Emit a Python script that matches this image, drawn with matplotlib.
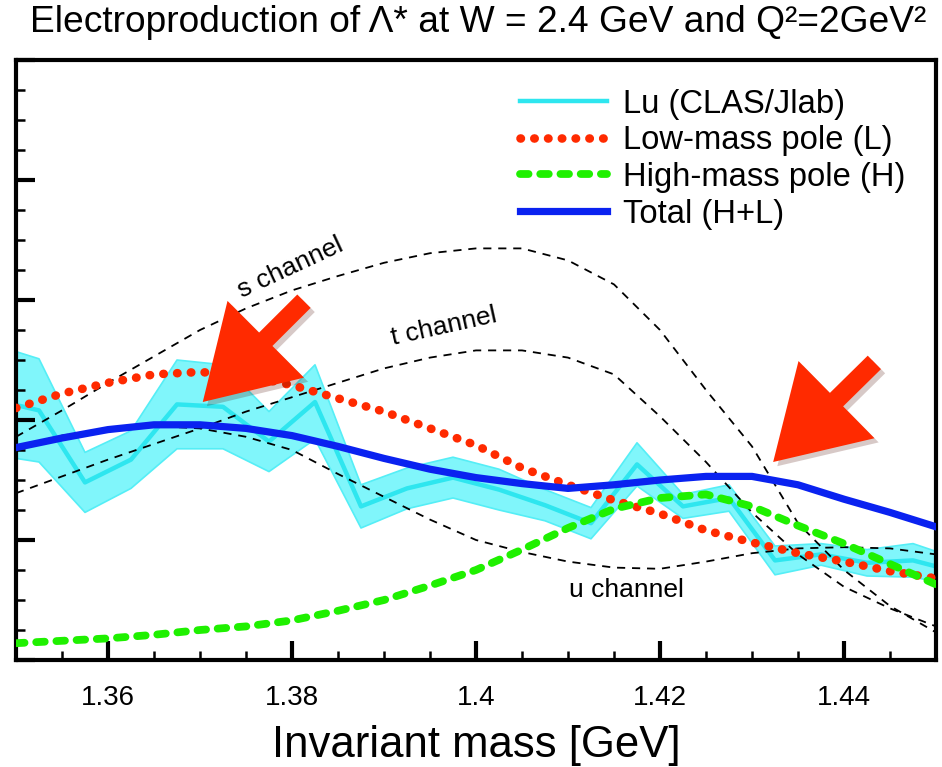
import numpy as np
import matplotlib
matplotlib.use('Agg')
import matplotlib.pyplot as plt
from matplotlib import patheffects
from matplotlib.ticker import MultipleLocator, FuncFormatter

plt.rcParams['font.family'] = ['Liberation Sans', 'DejaVu Sans']

# ---- data (y in arbitrary units, axis has no y labels) ----
# Lu (CLAS/Jlab) measurement, centre line and half band width
lu_mass = [1.3475, 1.3525, 1.3575, 1.3625, 1.3675, 1.3725, 1.3775, 1.3825,
           1.3875, 1.3925, 1.3975, 1.4025, 1.4075, 1.4125, 1.4175, 1.4225,
           1.4275, 1.4325, 1.4375, 1.4425, 1.4475, 1.4525]
lu_val = [2.17, 2.08, 1.48, 1.67, 2.13, 2.11, 1.82, 2.15,
          1.28, 1.43, 1.52, 1.42, 1.29, 1.14, 1.63, 1.28,
          1.35, 0.83, 0.88, 0.81, 0.83, 0.73]
lu_err = [0.46, 0.43, 0.25, 0.24, 0.37, 0.35, 0.25, 0.31,
          0.18, 0.17, 0.17, 0.17, 0.13, 0.13, 0.18, 0.10,
          0.11, 0.12, 0.09, 0.11, 0.14, 0.11]

# model curves
mass = [1.350, 1.355, 1.360, 1.365, 1.370, 1.375, 1.380, 1.385, 1.390, 1.395,
        1.400, 1.405, 1.410, 1.415, 1.420, 1.425, 1.430, 1.435, 1.440, 1.445,
        1.450]
low_pole = [2.10, 2.22, 2.31, 2.38, 2.40, 2.37, 2.29, 2.18, 2.07, 1.93,
            1.79, 1.60, 1.46, 1.33, 1.22, 1.08, 0.98, 0.89, 0.82, 0.74,
            0.68]
high_pole = [0.14, 0.16, 0.18, 0.21, 0.25, 0.28, 0.33, 0.41, 0.50, 0.62,
             0.75, 0.92, 1.10, 1.26, 1.35, 1.38, 1.28, 1.12, 0.97, 0.80,
             0.63]
total = [1.77, 1.85, 1.92, 1.96, 1.96, 1.93, 1.87, 1.78, 1.68, 1.59,
         1.52, 1.47, 1.43, 1.46, 1.50, 1.53, 1.53, 1.46, 1.34, 1.23,
         1.11]
s_chan = [1.86, 2.08, 2.31, 2.53, 2.75, 2.93, 3.08, 3.20, 3.31, 3.39,
          3.43, 3.43, 3.33, 3.13, 2.75, 2.25, 1.78, 1.14, 0.75, 0.45,
          0.23]
t_chan = [1.39, 1.53, 1.67, 1.80, 1.93, 2.07, 2.19, 2.31, 2.43, 2.52,
          2.58, 2.58, 2.52, 2.38, 2.03, 1.65, 1.23, 0.88, 0.61, 0.43,
          0.28]
u_chan = [1.78, 1.87, 1.93, 1.95, 1.93, 1.86, 1.75, 1.55, 1.36, 1.17,
          1.00, 0.90, 0.82, 0.77, 0.76, 0.82, 0.89, 0.93, 0.94, 0.93,
          0.88]

title = 'Electroproduction of Λ* at W = 2.4 GeV and Q²=2GeV²'

fig = plt.figure(figsize=(9.42, 7.67), dpi=100)
ax = fig.add_axes([16 / 942, 107 / 767, 920 / 942, 600 / 767])

lu_val = np.array(lu_val)
lu_err = np.array(lu_err)

# band + centre line of the measurement
ax.fill_between(lu_mass, lu_val - lu_err, lu_val + lu_err, color='#80f6fb',
                edgecolor='#55eef6', lw=1.2, zorder=1)
ax.plot(lu_mass, lu_val, color='#2ee6ef', lw=3.2, zorder=2,
        label='Lu (CLAS/Jlab)')

# channel curves
for yy in (s_chan, t_chan, u_chan):
    ax.plot(mass, yy, color='black', lw=1.3, dashes=(4.5, 3.8), zorder=3)

ax.plot(mass, low_pole, color='#ff2a00', lw=6.2, dashes=(0.05, 1.55),
        dash_capstyle='round', zorder=4, label='Low-mass pole (L)')
ax.plot(mass, high_pole, color='#1ff000', lw=5.6, dashes=(1.1, 1.5),
        dash_capstyle='round', zorder=4, label='High-mass pole (H)')
ax.plot(mass, total, color='#0a22f0', lw=5.2, zorder=5,
        label='Total (H+L)')

# labels of the channels
ax.text(1.3798, 3.27, 's channel', fontsize=19, rotation=25,
        ha='center', va='center')
ax.text(1.3965, 2.78, 't channel', fontsize=19, rotation=12.5,
        ha='center', va='center')
ax.text(1.4164, 0.58, 'u channel', fontsize=19, ha='center', va='center')

# red arrows
arr = dict(arrowstyle='simple,head_length=3.2,head_width=3.9,tail_width=0.68',
           fc='#ff2a00', ec='none', shrinkA=0, shrinkB=0, mutation_scale=20)
shadow = [patheffects.SimplePatchShadow(offset=(3, -3), alpha=0.22),
          patheffects.Normal()]
for tip, tail in [((1.3703, 2.15), (1.3813, 2.99)),
                  ((1.4323, 1.65), (1.4433, 2.48))]:
    a = ax.annotate('', xy=tip, xytext=tail, arrowprops=arr, zorder=8)
    a.arrow_patch.set_path_effects(shadow)

ax.set_xlim(1.35, 1.45)
ax.set_ylim(0, 5)
ax.xaxis.set_major_locator(MultipleLocator(0.02))
ax.xaxis.set_minor_locator(MultipleLocator(0.005))
ax.yaxis.set_major_locator(MultipleLocator(1))
ax.yaxis.set_minor_locator(MultipleLocator(0.25))
ax.xaxis.set_major_formatter(FuncFormatter(lambda v, p: f'{v:g}'))
ax.tick_params(which='both', direction='in', top=False, right=False,
               labelleft=False, labelsize=20, pad=18)
ax.tick_params(which='major', length=13.5, width=3)
ax.tick_params(which='minor', length=6.5, width=1.8)
for sp in ax.spines.values():
    sp.set_linewidth(3)

ax.set_xlabel('Invariant mass [GeV]', fontsize=31.5, labelpad=10)
fig.text(478 / 942, 1 - 23 / 767, title, fontsize=26.7, ha='center',
         va='center')

ax.legend(loc='upper left', bbox_to_anchor=(0.548, 0.952), frameon=False,
          fontsize=23.6, handlelength=2.65, handletextpad=0.5,
          labelspacing=0.17, borderpad=0, borderaxespad=0)

fig.savefig('out.png', dpi=100)
